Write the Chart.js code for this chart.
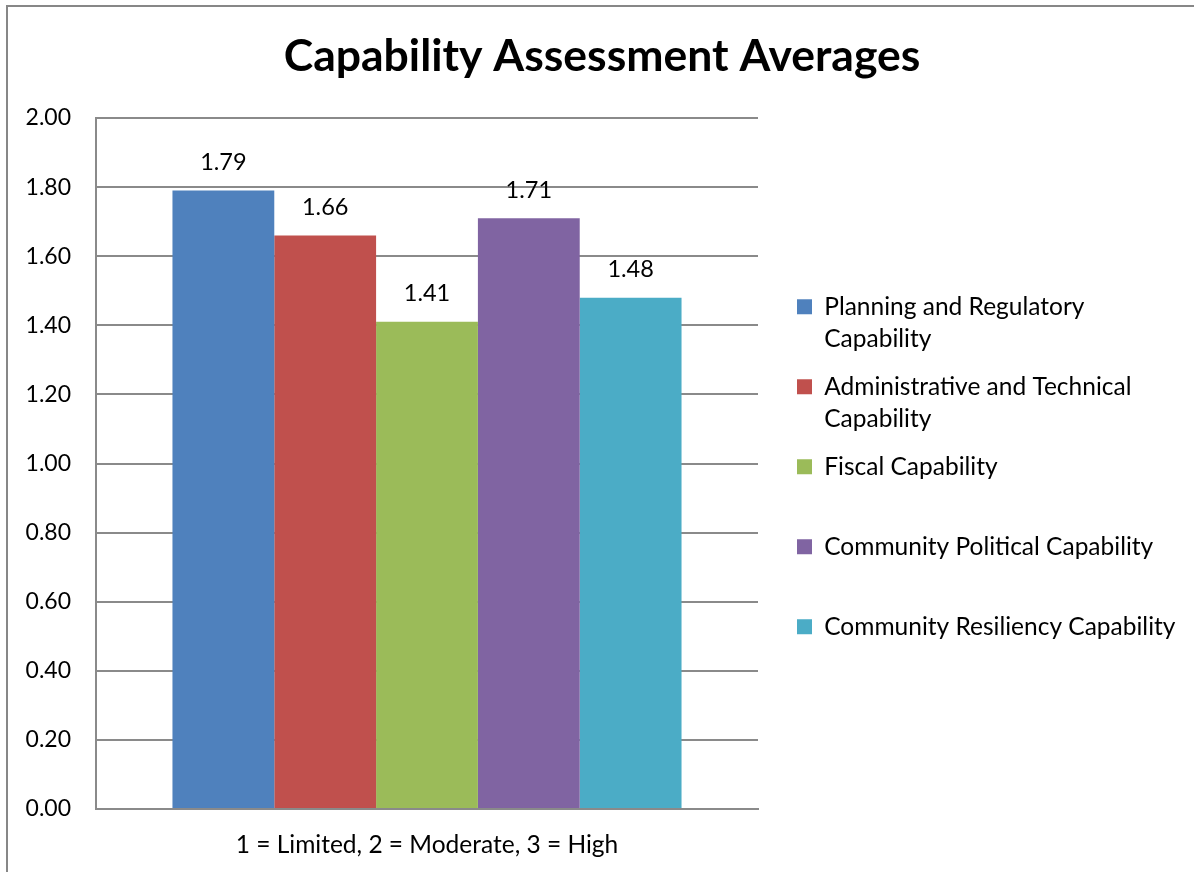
<!DOCTYPE html>
<html>
<head>
<meta charset="utf-8">
<script src="https://cdn.jsdelivr.net/npm/chart.js@4.4.1/dist/chart.umd.min.js"></script>
<style>
  html, body { margin: 0; padding: 0; overflow: hidden; background: #fff; }
  #wrap { position: relative; width: 1194px; height: 872px; }
  #frame { position: absolute; left: 6px; top: 5px; width: 2000px; height: 2000px; border: 2px solid #878787; pointer-events: none; }
  canvas { position: absolute; left: 0; top: 0; }
</style>
</head>
<body>
<div id="wrap">
  <canvas id="c" width="1194" height="872"></canvas>
  <div id="frame"></div>
</div>
<script>
const chartTitle = 'Capability Assessment Averages';
const categories = ['1 = Limited, 2 = Moderate, 3 = High'];
const seriesNames = [
  'Planning and Regulatory Capability',
  'Administrative and Technical Capability',
  'Fiscal Capability',
  'Community Political Capability',
  'Community Resiliency Capability'
];
const legendLines = [
  ['Planning and Regulatory', 'Capability'],
  ['Administrative and Technical', 'Capability'],
  ['Fiscal Capability', ''],
  ['Community Political Capability', ''],
  ['Community Resiliency Capability', '']
];
const seriesValues = [1.79, 1.66, 1.41, 1.71, 1.48];
const seriesColors = ['#4F81BD', '#C0504D', '#9BBB59', '#8064A2', '#4BACC6'];
const yTicks = [0, 0.2, 0.4, 0.6, 0.8, 1.0, 1.2, 1.4, 1.6, 1.8, 2.0];

const FONT = 'Lato';
const GRID = '#8a8a8a';

const valueLabels = {
  id: 'valueLabels',
  afterDatasetsDraw(chart) {
    const ctx = chart.ctx;
    chart.data.datasets.forEach((ds, i) => {
      const meta = chart.getDatasetMeta(i);
      meta.data.forEach((bar, j) => {
        ctx.save();
        ctx.font = '23.5px ' + FONT;
        ctx.fillStyle = '#000';
        ctx.textAlign = 'center';
        ctx.textBaseline = 'middle';
        ctx.fillText(ds.data[j].toFixed(2), bar.x, bar.y - 28);
        ctx.restore();
      });
    });
  }
};

const datasets = seriesNames.map((name, i) => ({
  label: name,
  data: [seriesValues[i]],
  backgroundColor: seriesColors[i],
  borderWidth: 0,
  categoryPercentage: 0.769,
  barPercentage: 1.0
}));

new Chart(document.getElementById('c'), {
  type: 'bar',
  data: { labels: categories, datasets: datasets },
  plugins: [valueLabels],
  options: {
    responsive: false,
    animation: false,
    layout: { padding: { left: 24, right: 14, top: 0, bottom: 0 } },
    plugins: {
      tooltip: { enabled: false },
      title: {
        display: true,
        text: chartTitle,
        color: '#000',
        font: { family: FONT, size: 44.5, weight: 'bold', lineHeight: 1.2 },
        padding: { top: 30, bottom: 34.6 }
      },
      legend: {
        position: 'right',
        fullSize: false,
        maxWidth: 399,
        align: 'center',
        title: { display: true, text: '', font: { family: FONT, size: 20, lineHeight: 1.2 }, padding: { top: 11, bottom: 11 } },
        labels: {
          color: '#000',
          font: { family: FONT, size: 24.5, lineHeight: 1.306 },
          boxWidth: 15,
          boxHeight: 15,
          padding: 16,
          generateLabels(chart) {
            const items = Chart.defaults.plugins.legend.labels.generateLabels(chart);
            items.forEach((it, i) => { it.text = legendLines[i]; it.lineWidth = 0; it.strokeStyle = 'rgba(0,0,0,0)'; });
            return items;
          }
        }
      }
    },
    scales: {
      x: {
        grid: { display: false },
        border: { display: true, color: GRID, width: 2 },
        ticks: { color: '#000', font: { family: FONT, size: 24.5 }, padding: 13 },
        afterFit(scale) { scale.height = 63; }
      },
      y: {
        min: 0,
        max: 2,
        afterBuildTicks(scale) { scale.ticks = yTicks.map(v => ({ value: v })); },
        grid: { color: GRID, lineWidth: 2, drawTicks: false },
        border: { display: true, color: GRID, width: 2 },
        ticks: { color: '#000', font: { family: FONT, size: 23 }, padding: 25, callback: v => Number(v).toFixed(2) },
        afterFit(scale) { scale.width = 72; }
      },
      y2: {
        position: 'right',
        display: true,
        grid: { display: false },
        border: { display: false },
        ticks: { display: false },
        afterFit(scale) { scale.width = 23; }
      }
    }
  }
});
</script>
</body>
</html>
